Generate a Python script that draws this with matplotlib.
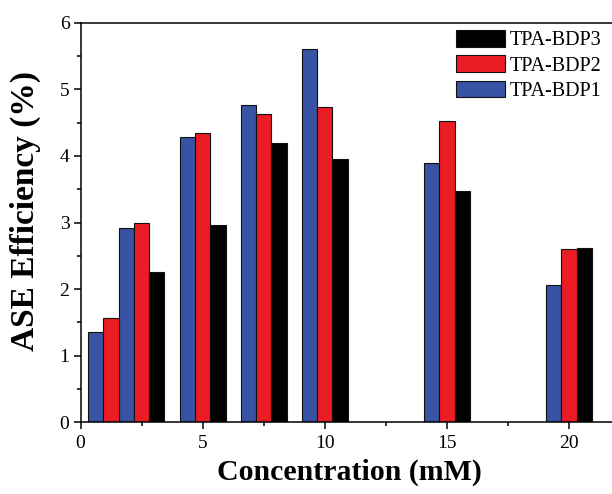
import matplotlib
matplotlib.use("Agg")
import matplotlib.pyplot as plt
import numpy as np
from matplotlib.ticker import MultipleLocator

concentrations = [1.25, 2.5, 5, 7.5, 10, 15, 20]
bdp1 = [1.35, 2.92, 4.28, 4.77, 5.60, 3.89, 2.06]
bdp2 = [1.56, 3.00, 4.34, 4.63, 4.74, 4.52, 2.60]
bdp3 = [0.0, 2.26, 2.96, 4.19, 3.95, 3.47, 2.61]
series_names = ["TPA-BDP1", "TPA-BDP2", "TPA-BDP3"]
colors = ["#3953a4", "#ec1c24", "#000000"]

plt.rcParams['font.family'] = ['Liberation Serif', 'DejaVu Serif']

fig = plt.figure(figsize=(6.12, 4.94), dpi=100)
ax = fig.add_axes([80.5/612, 71.7/494, (22*24.43)/612, (422.3-22.7)/494])

width = 0.625
x = np.array(concentrations)
offsets = [-width, 0, width]
handles = []
for vals, off, col, name in zip([bdp1, bdp2, bdp3], offsets, colors, series_names):
    v = np.array(vals)
    mask = v > 0
    h = ax.bar(x[mask] + off, v[mask], width=width, color=col, edgecolor="#111111",
               linewidth=0.8, label=name)
    handles.append(h)

ax.set_xlim(0, 22)
ax.set_ylim(0, 6)
ax.xaxis.set_major_locator(MultipleLocator(5))
ax.xaxis.set_minor_locator(MultipleLocator(2.5))
ax.yaxis.set_major_locator(MultipleLocator(1))
ax.yaxis.set_minor_locator(MultipleLocator(0.5))
ax.tick_params(which='major', direction='out', length=5, width=1.1, labelsize=14, pad=3)
ax.tick_params(axis='x', which='major', pad=4)
ax.tick_params(which='minor', direction='out', length=3, width=1.1)
for s in ax.spines.values():
    s.set_linewidth(1.1)

ax.set_xlabel("Concentration (mM)", fontsize=21.5, fontweight='bold', labelpad=5)
ax.set_ylabel("ASE Efficiency (%)", fontsize=24, fontweight='bold', labelpad=6)
ax.yaxis.set_label_coords(-0.073, 0.53)

leg = ax.legend(handles=handles[::-1], labels=series_names[::-1], loc='upper left',
                bbox_to_anchor=(0.699, 0.982), frameon=False, fontsize=14.5,
                handlelength=2.4, handleheight=0.9, handletextpad=0.25, labelspacing=0.25,
                borderpad=0, borderaxespad=0)

fig.savefig("out.png", dpi=100)
